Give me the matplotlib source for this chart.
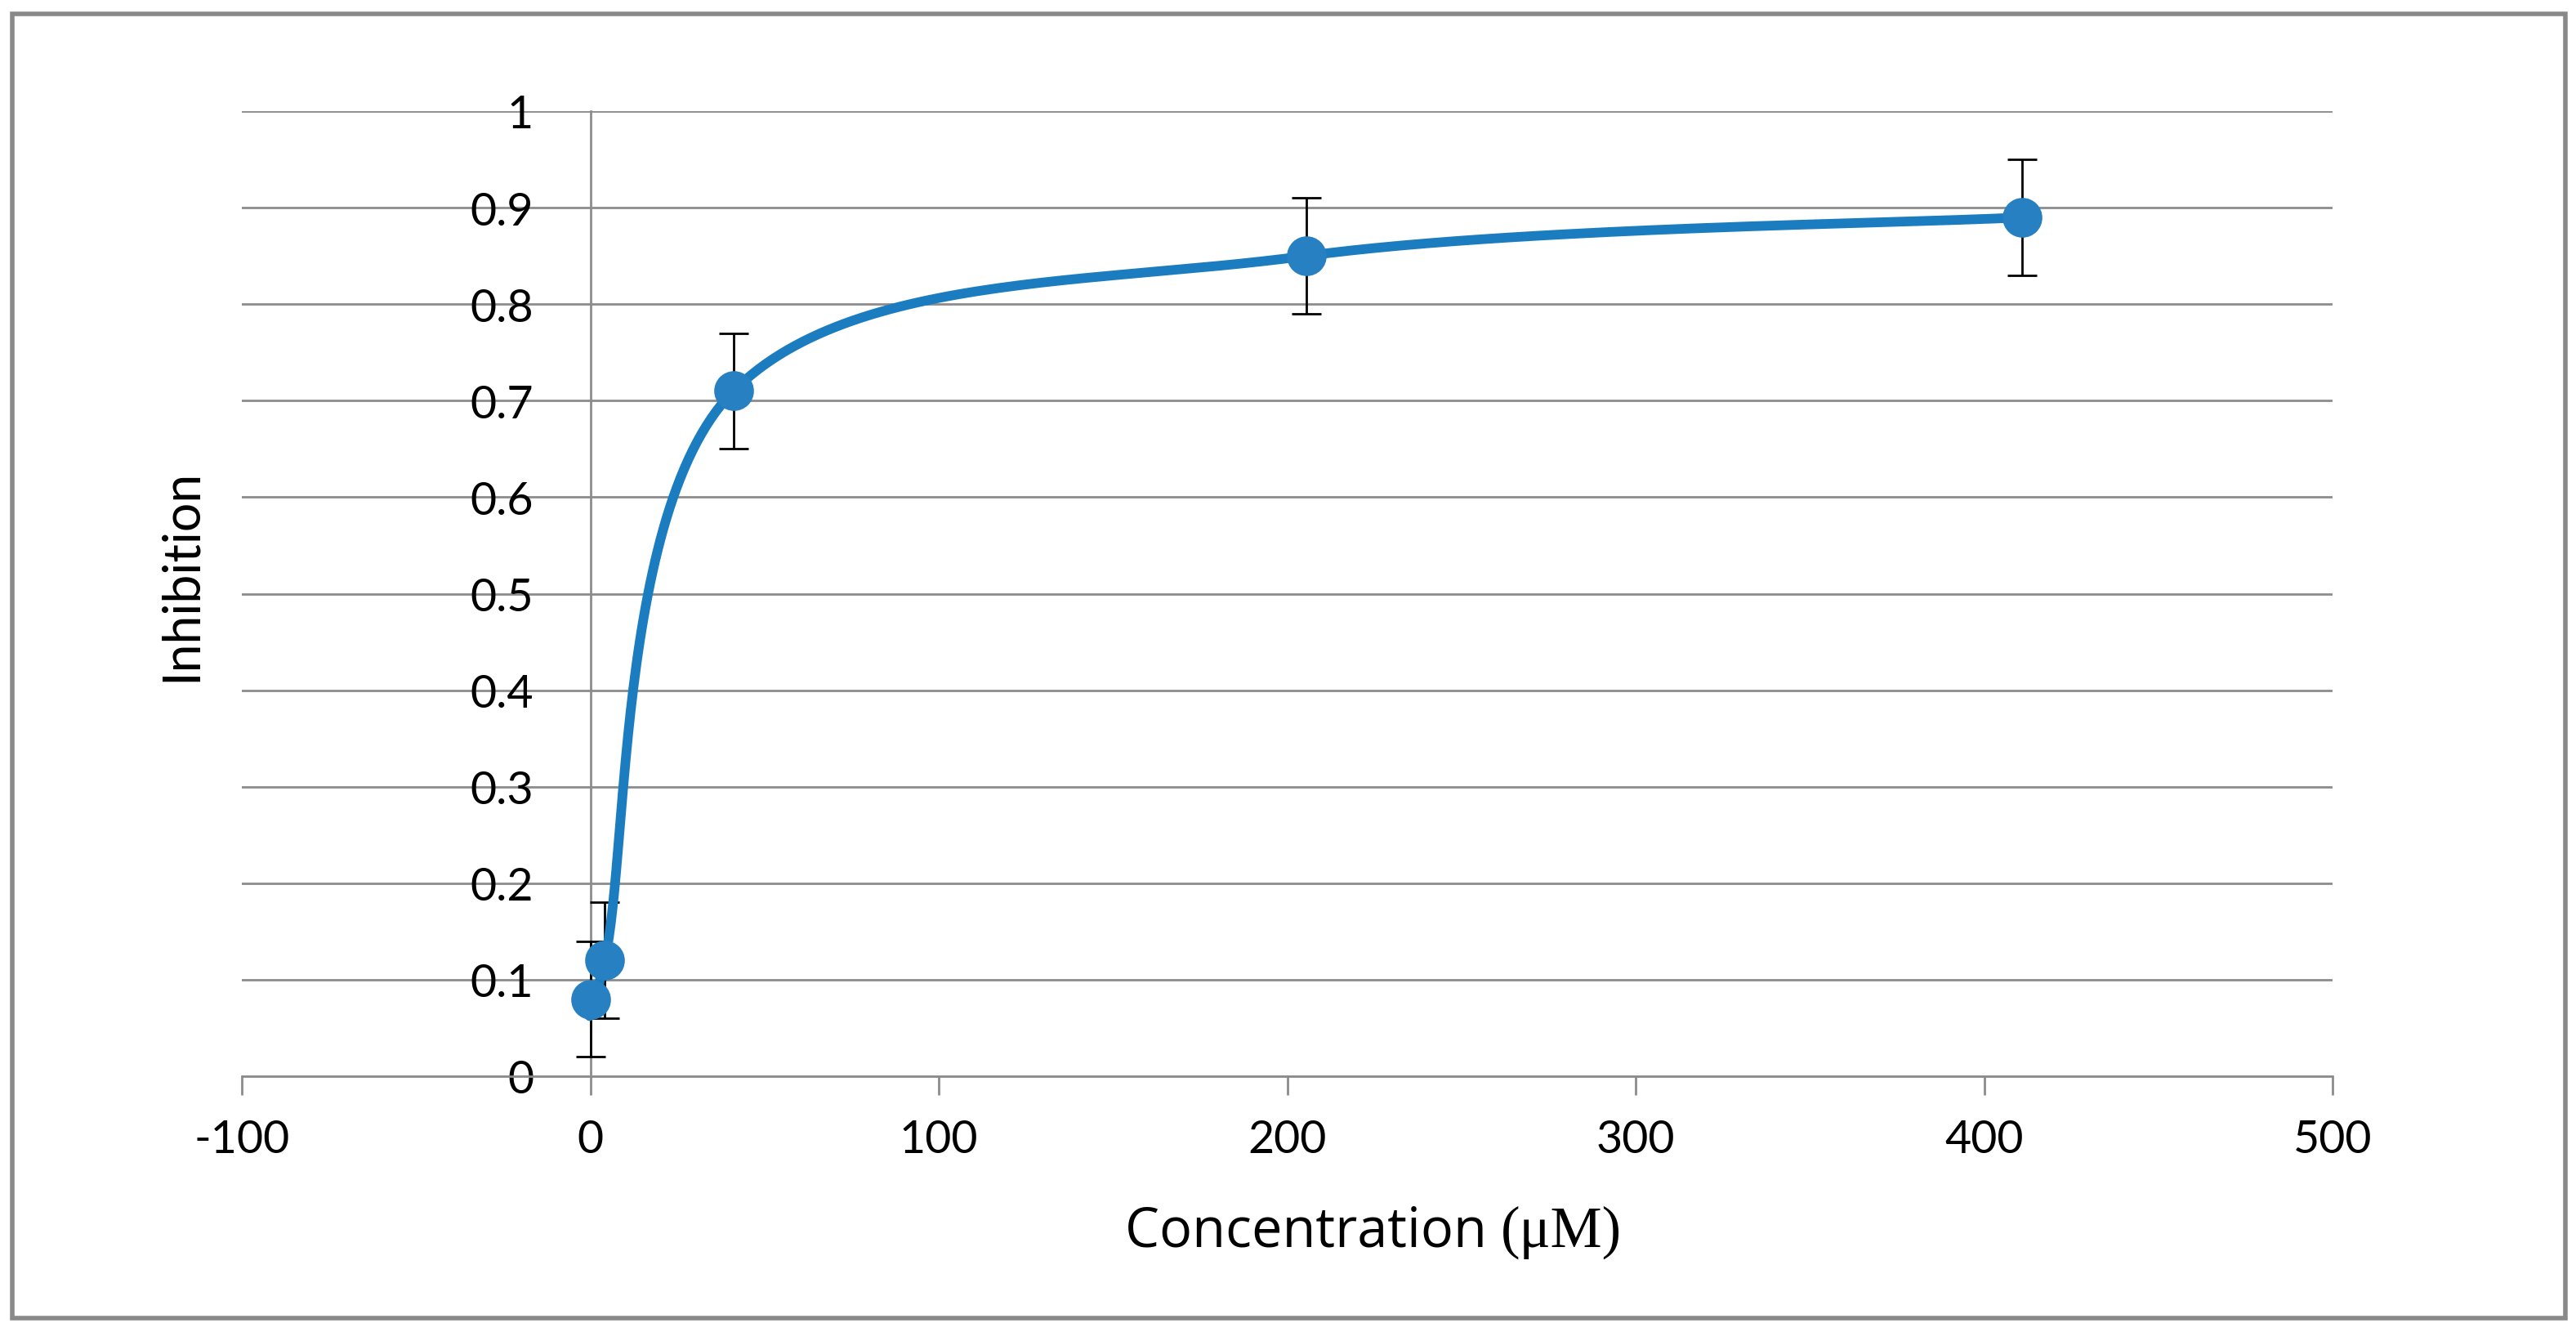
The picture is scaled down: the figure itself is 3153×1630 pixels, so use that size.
import numpy as np
import matplotlib
matplotlib.use("Agg")
import matplotlib.pyplot as plt
from matplotlib.patches import Rectangle
from matplotlib.offsetbox import TextArea, HPacker, AnchoredOffsetbox

# Data
conc = [0, 4.11, 41.1, 205.5, 411]
inhibition = [0.08, 0.12, 0.71, 0.85, 0.89]
err = [0.06, 0.06, 0.06, 0.06, 0.06]
x_ticks = [-100, 0, 100, 200, 300, 400, 500]
y_ticks = [0, 0.1, 0.2, 0.3, 0.4, 0.5, 0.6, 0.7, 0.8, 0.9, 1]
y_tick_labels = ["0", "0.1", "0.2", "0.3", "0.4", "0.5", "0.6", "0.7", "0.8", "0.9", "1"]

GRID = "#8c8c8c"
BLUE = "#2680c2"
LINE_BLUE = "#1b7dc0"
FONT = ["Lato", "DejaVu Sans"]

W, H, DPI = 3153, 1631, 100
AX_L, AX_R, AX_T, AX_B = 296, 2855, 137, 1318   # plot area in pixels


# Excel-like smoothed line (Catmull-Rom / Bezier, computed in pixel space)
def smooth_curve(xs, ys, xlim, ylim, wpx, hpx, n=60):
    px = (np.asarray(xs) - xlim[0]) / (xlim[1] - xlim[0]) * wpx
    py = (np.asarray(ys) - ylim[0]) / (ylim[1] - ylim[0]) * hpx
    pts = np.column_stack([px, py])
    out = []
    for i in range(len(pts) - 1):
        p0 = pts[i - 1] if i > 0 else pts[i]
        p1 = pts[i]
        p2 = pts[i + 1]
        p3 = pts[i + 2] if i + 2 < len(pts) else pts[i + 1]
        c1 = p1 + (p2 - p0) / 6.0
        c2 = p2 - (p3 - p1) / 6.0
        t = np.linspace(0, 1, n)[:, None]
        seg = ((1 - t) ** 3) * p1 + 3 * ((1 - t) ** 2) * t * c1 + 3 * (1 - t) * t ** 2 * c2 + t ** 3 * p2
        out.append(seg if i == 0 else seg[1:])
    out = np.vstack(out)
    sx = out[:, 0] / wpx * (xlim[1] - xlim[0]) + xlim[0]
    sy = out[:, 1] / hpx * (ylim[1] - ylim[0]) + ylim[0]
    return sx, sy


fig = plt.figure(figsize=(W / DPI, H / DPI), dpi=DPI)
fig.patch.set_facecolor("white")

# outer chart border
fig.add_artist(Rectangle((14.5 / W, 1 - 1614 / H), (3139.5 - 14.5) / W, (1614 - 18) / H,
                         transform=fig.transFigure, fill=False, edgecolor="#898989", linewidth=4))

ax = fig.add_axes([AX_L / W, 1 - AX_B / H, (AX_R - AX_L) / W, (AX_B - AX_T) / H])
ax.set_xlim(-100, 500)
ax.set_ylim(0, 1)

for s in ["top", "right"]:
    ax.spines[s].set_visible(False)
ax.spines["bottom"].set_color(GRID)
ax.spines["bottom"].set_linewidth(2)
ax.spines["left"].set_position(("data", 0))
ax.spines["left"].set_color(GRID)
ax.spines["left"].set_linewidth(2)

ax.set_yticks(y_ticks)
ax.set_yticklabels(y_tick_labels)
ax.set_xticks(x_ticks)
ax.set_xticklabels([str(v) for v in x_ticks])
ax.tick_params(axis="y", length=0, pad=50, labelsize=40)
ax.tick_params(axis="x", direction="out", length=16.5, width=2, color=GRID, pad=21, labelsize=40)
for lab in ax.get_xticklabels() + ax.get_yticklabels():
    lab.set_family(FONT)

ax.yaxis.grid(True, color=GRID, linewidth=2)
ax.set_axisbelow(True)

# smoothed curve
sx, sy = smooth_curve(conc, inhibition, (-100, 500), (0, 1), AX_R - AX_L, AX_B - AX_T)
ax.errorbar(conc, inhibition, yerr=err, fmt="none", ecolor="black", elinewidth=2,
            capsize=13, capthick=2, zorder=3)
ax.plot(sx, sy, color=LINE_BLUE, linewidth=8.5, solid_capstyle="round", zorder=4)
ax.plot(conc, inhibition, "o", color=BLUE, markersize=35, markeredgewidth=0, zorder=5)

# x label: sans text followed by the serif unit, as in the reference
xlabel = HPacker(children=[
    TextArea("Concentration ", textprops=dict(fontsize=48, family="Open Sans")),
    TextArea("(\u03bcM)", textprops=dict(fontsize=51, family="Liberation Serif")),
], align="baseline", pad=0, sep=0)
fig.add_artist(AnchoredOffsetbox(loc="center", child=xlabel, pad=0, borderpad=0, frameon=False,
                                 bbox_to_anchor=(1681 / W, 1 - 1508 / H),
                                 bbox_transform=fig.transFigure))

fig.text(222 / W, 1 - 704 / H, "Inhibition", ha="center", va="center", rotation=90,
         fontsize=45, family=FONT)

fig.savefig("out.png", dpi=DPI)
